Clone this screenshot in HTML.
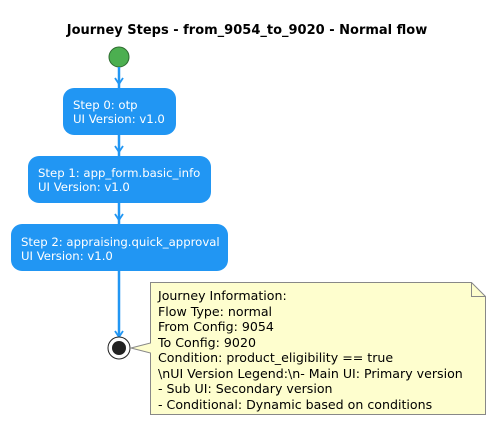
<!DOCTYPE html>
<html><head><style>
html,body{margin:0;padding:0;background:#fff;}
svg{display:block;}
text{font-family:"DejaVu Sans","Liberation Sans",sans-serif;}
</style></head><body>
<svg width="495" height="425" xmlns="http://www.w3.org/2000/svg">
<text x="247" y="34" text-anchor="middle" font-size="13" font-weight="bold" fill="#000">Journey Steps - from_9054_to_9020 - Normal flow</text>
<circle cx="119" cy="57" r="10" fill="#4CAF50" stroke="#2e6b30" stroke-width="1"/>
<g stroke="#2196F3" stroke-width="2.5" fill="none">
<line x1="119" y1="67" x2="119" y2="88"/>
<line x1="119" y1="135" x2="119" y2="156"/>
<line x1="119" y1="203" x2="119" y2="224"/>
<line x1="119" y1="271" x2="119" y2="337"/>
<polyline points="115,78 119,84 123,78" stroke-width="1.8"/>
<polyline points="115,146 119,152 123,146" stroke-width="1.8"/>
<polyline points="115,214 119,220 123,214" stroke-width="1.8"/>
<polyline points="115,331 119,337 123,331" stroke-width="1.8"/>
</g>
<g fill="#2196F3">
<rect x="63" y="88" width="113" height="47" rx="11"/>
<rect x="28" y="156" width="183" height="47" rx="11"/>
<rect x="11" y="224" width="217" height="47" rx="11"/>
</g>
<g fill="#fff" font-size="11.7">
<text x="73" y="109">Step 0: otp</text><text x="73" y="123">UI Version: v1.0</text>
<text x="38" y="177">Step 1: app_form.basic_info</text><text x="38" y="191">UI Version: v1.0</text>
<text x="21" y="246">Step 2: appraising.quick_approval</text><text x="21" y="260">UI Version: v1.0</text>
</g>
<circle cx="119" cy="348" r="11" fill="#fff" stroke="#222" stroke-width="1"/>
<circle cx="119" cy="348" r="7" fill="#222"/>
<path d="M150.5,282.5 H471.5 L485.5,296.5 V414.5 H150.5 V353 L131,348 L150.5,343 Z" fill="#FEFECE" stroke="#888" stroke-width="1"/>
<path d="M471.5,282.5 V296.5 H485.5" fill="none" stroke="#888" stroke-width="1"/>
<g fill="#000" font-size="12.6">
<text x="158" y="300">Journey Information:</text>
<text x="158" y="316">Flow Type: normal</text>
<text x="158" y="331">From Config: 9054</text>
<text x="158" y="347">To Config: 9020</text>
<text x="158" y="362">Condition: product_eligibility == true</text>
<text x="158" y="378">\nUI Version Legend:\n- Main UI: Primary version</text>
<text x="158" y="393">- Sub UI: Secondary version</text>
<text x="158" y="409">- Conditional: Dynamic based on conditions</text>
</g>
</svg>
</body></html>
